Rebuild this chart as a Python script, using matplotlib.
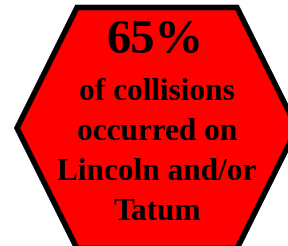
import matplotlib
matplotlib.use("Agg")
import matplotlib.pyplot as plt
from matplotlib.patches import Polygon

# data
share_pct = 65
caption_lines = ["of collisions", "occurred on", "Lincoln and/or", "Tatum"]

W, H = 288, 246
fig = plt.figure(figsize=(W / 100, H / 100), dpi=100)
ax = fig.add_axes([0, 0, 1, 1])
ax.set_xlim(0, W)
ax.set_ylim(H, 0)
ax.axis("off")

# hexagon (flat top), partly cut off at right and bottom
cx, cy = 157, 128
half_w, half_top, half_h = 140, 80, 120.5
verts = [
    (cx - half_top, cy - half_h),
    (cx + half_top, cy - half_h),
    (cx + half_w, cy),
    (cx + half_top, cy + half_h),
    (cx - half_top, cy + half_h),
    (cx - half_w, cy),
]
ax.add_patch(Polygon(verts, closed=True, facecolor="#ff0000",
                     edgecolor="black", linewidth=4, joinstyle="miter"))

font = dict(family="Liberation Serif", weight="bold", color="black",
            ha="center", va="baseline")
ax.text(cx - 2, 53, f"{share_pct}%", fontsize=35, **font)
for i, line in enumerate(caption_lines):
    ax.text(cx, 100 + i * 40, line, fontsize=22.5, **font)

fig.savefig("out.png", dpi=100)
